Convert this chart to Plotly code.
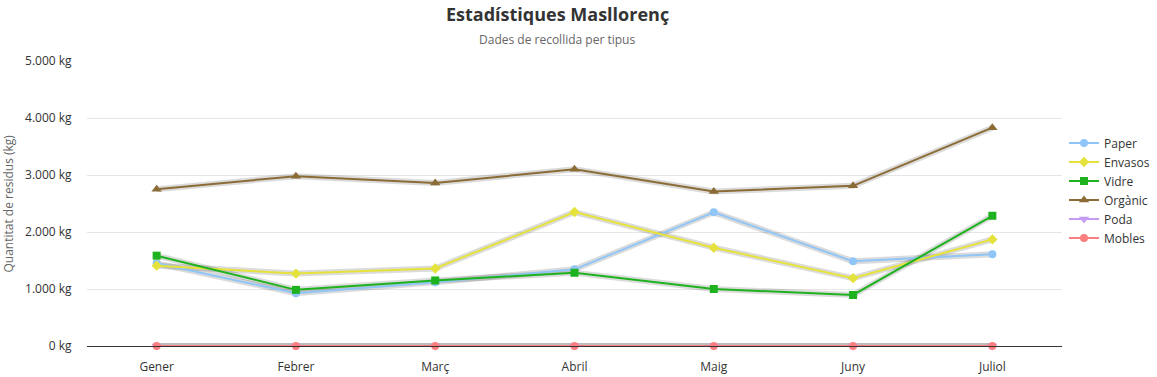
import plotly.graph_objects as go

months = ["Gener", "Febrer", "Març", "Abril", "Maig", "Juny", "Juliol"]
paper = [1450, 925, 1120, 1345, 2345, 1485, 1610]
envasos = [1410, 1270, 1360, 2350, 1725, 1190, 1870]
vidre = [1585, 985, 1150, 1285, 1000, 895, 2285]
organic = [2750, 2980, 2860, 3100, 2710, 2810, 3830]
poda = [0, 0, 0, 0, 0, 0, 0]
mobles = [0, 0, 0, 0, 0, 0, 0]

series = [
    ("Paper", paper, "#90c6f7", "circle", 8),
    ("Envasos", envasos, "#e6e23c", "diamond", 8),
    ("Vidre", vidre, "#1fb21f", "square", 8),
    ("Orgànic", organic, "#8c6c36", "triangle-up", 9),
    ("Poda", poda, "#c49cf4", "triangle-down", 9),
    ("Mobles", mobles, "#fb7f80", "circle", 8),
]

fig = go.Figure()
# soft shadows
for name, vals, color, sym, sz in series:
    fig.add_trace(go.Scatter(
        x=months, y=vals, mode="lines", showlegend=False, hoverinfo="skip",
        line=dict(color="rgba(0,0,0,0.14)", width=6), cliponaxis=False,
    ))
for name, vals, color, sym, sz in series:
    fig.add_trace(go.Scatter(
        x=months, y=vals, name=name, mode="lines+markers",
        line=dict(color=color, width=2),
        marker=dict(symbol=sym, size=sz, color=color),
        cliponaxis=False,
    ))

font = "Open Sans, Noto Sans, sans-serif"
L, R, T, B = 87, 95, 61, 31
W, H = 1157, 377
fig.update_layout(
    width=W, height=H,
    margin=dict(l=L, r=R, t=T, b=B),
    paper_bgcolor="white", plot_bgcolor="white",
    separators=",.",
    font=dict(family=font, size=12, color="#333333"),
    legend=dict(
        xref="container", yref="container",
        x=1064 / W, xanchor="left", y=1 - 190.5 / H, yanchor="middle",
        font=dict(size=12, color="#333333"),
        tracegroupgap=0, itemwidth=30,
    ),
    xaxis=dict(
        showgrid=False, showline=True, linecolor="#333333", linewidth=1,
        ticks="outside", ticklen=10, tickcolor="rgba(0,0,0,0)",
        tickfont=dict(size=12, color="#333333"),
        range=[-0.5, 6.5], zeroline=False, automargin=False,
    ),
    yaxis=dict(
        range=[0, 5000], dtick=1000, tickformat=",d", ticksuffix=" kg",
        gridcolor="#e6e6e6", zeroline=False, showline=False,
        ticks="outside", ticklen=12, tickcolor="rgba(0,0,0,0)",
        tickfont=dict(size=12, color="#333333"), automargin=False,
    ),
)

pw = W - L - R
ph = H - T - B
fig.add_annotation(text="<b>Estadístiques Masllorenç</b>", xref="paper", yref="paper",
                   x=(557 - L) / pw, y=(H - B - 14) / ph, yanchor="middle", showarrow=False,
                   font=dict(size=18, color="#333333"))
fig.add_annotation(text="Dades de recollida per tipus", xref="paper", yref="paper",
                   x=(557 - L) / pw, y=(H - B - 39) / ph, yanchor="middle", showarrow=False,
                   font=dict(size=12, color="#666666"))
fig.add_annotation(text="Quantitat de residus (kg)", xref="paper", yref="paper",
                   x=(8 - L) / pw, y=0.5, xanchor="center", yanchor="middle", textangle=-90,
                   showarrow=False, font=dict(size=12, color="#666666"))

fig.write_html("out.html", config={"displayModeBar": False},
               post_script="document.body.style.margin='0';document.body.style.padding='0';")
